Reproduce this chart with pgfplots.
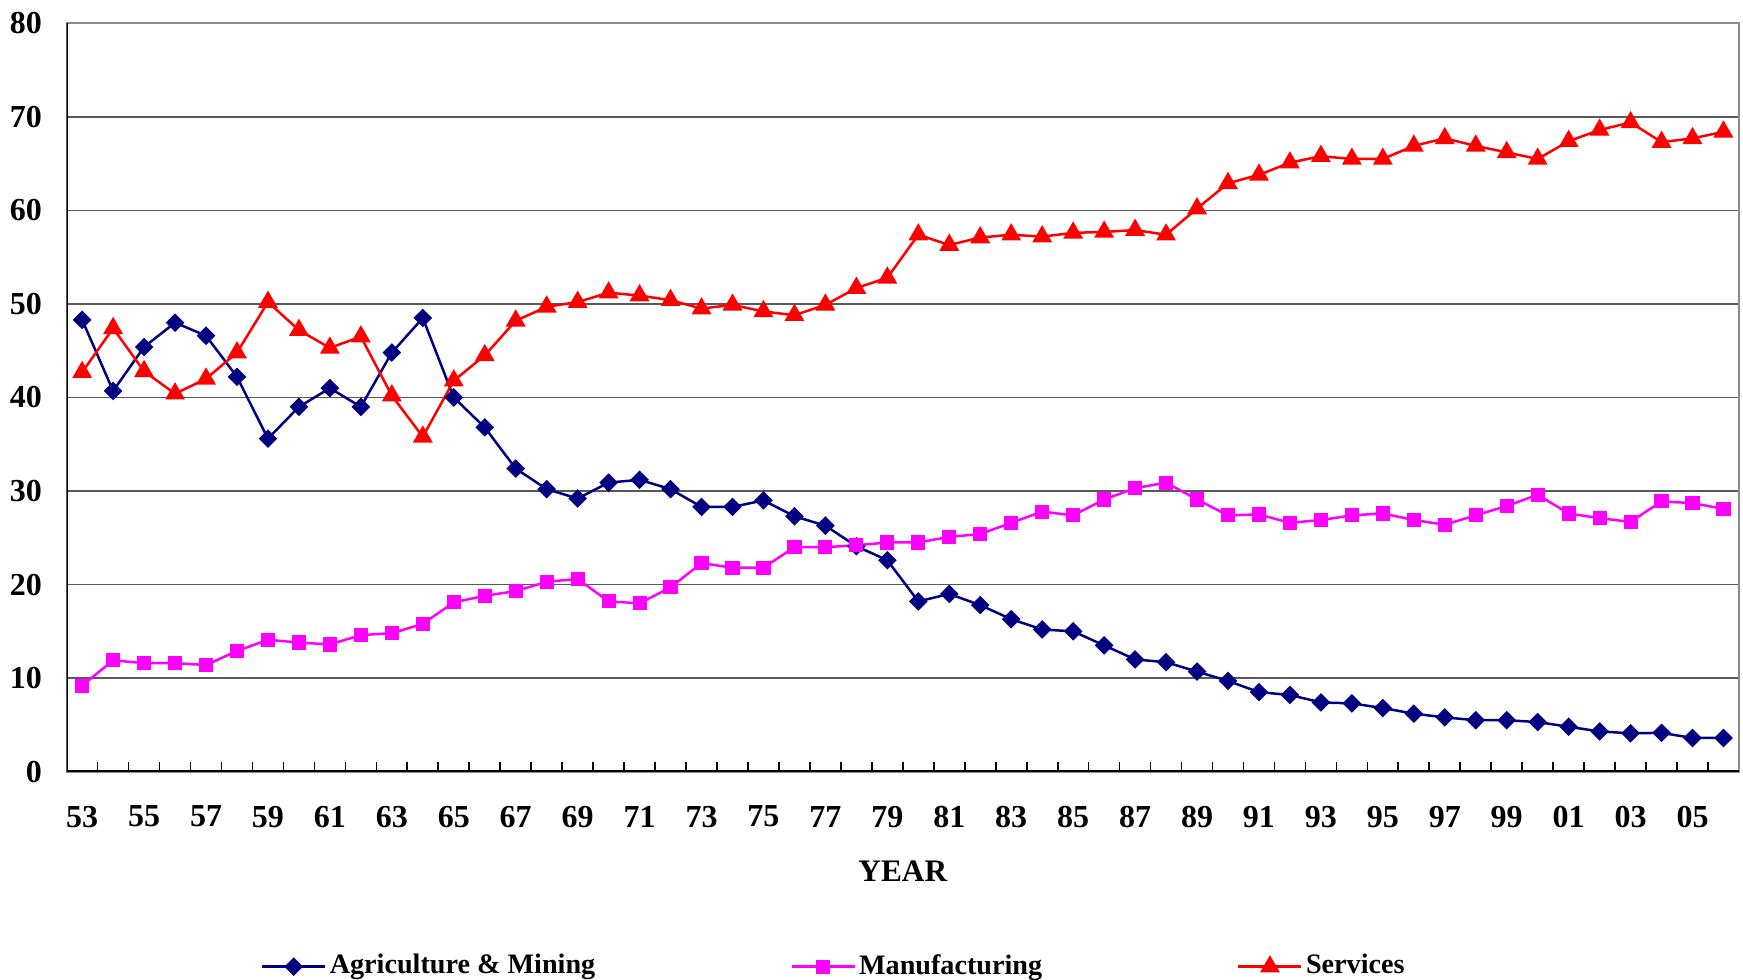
\documentclass[border=0pt]{standalone}
\usepackage{fontspec}
\setmainfont{Liberation Serif}
\usepackage{pgfplots}
\pgfplotsset{compat=1.18}
\usepackage{pgfplotstable}
\definecolor{agri}{RGB}{0,0,128}
\definecolor{manu}{RGB}{255,0,255}
\definecolor{serv}{RGB}{255,0,0}

\pgfplotstableread{
x agri manu serv
0 48.3 9.2 42.7
1 40.7 11.9 47.4
2 45.4 11.6 42.8
3 48.0 11.6 40.4
4 46.6 11.4 42.0
5 42.2 12.9 44.8
6 35.6 14.1 50.2
7 39.0 13.8 47.2
8 41.0 13.6 45.3
9 39.0 14.6 46.5
10 44.8 14.8 40.2
11 48.5 15.8 35.8
12 40.0 18.1 41.8
13 36.8 18.8 44.5
14 32.4 19.3 48.2
15 30.2 20.3 49.7
16 29.2 20.6 50.2
17 30.9 18.2 51.2
18 31.2 18.0 50.9
19 30.2 19.7 50.4
20 28.3 22.3 49.5
21 28.3 21.8 49.9
22 29.0 21.8 49.2
23 27.3 24.0 48.8
24 26.3 24.0 49.9
25 24.1 24.2 51.7
26 22.6 24.5 52.8
27 18.2 24.5 57.4
28 19.0 25.1 56.3
29 17.8 25.4 57.1
30 16.3 26.6 57.4
31 15.2 27.8 57.2
32 15.0 27.4 57.6
33 13.5 29.1 57.7
34 12.0 30.3 57.9
35 11.7 30.9 57.4
36 10.7 29.1 60.2
37 9.7 27.4 62.9
38 8.5 27.5 63.8
39 8.2 26.6 65.1
40 7.4 26.9 65.8
41 7.3 27.4 65.5
42 6.8 27.6 65.5
43 6.2 26.9 66.9
44 5.8 26.4 67.7
45 5.5 27.4 66.9
46 5.5 28.4 66.2
47 5.3 29.6 65.5
48 4.8 27.6 67.4
49 4.3 27.1 68.6
50 4.1 26.7 69.4
51 4.15 28.9 67.3
52 3.6 28.7 67.7
53 3.6 28.1 68.4
}\data

\begin{document}
\begin{tikzpicture}
\useasboundingbox (-20pt,-62.5pt) rectangle (502.9pt,231.5pt);
\begin{axis}[
  at={(0,0)}, anchor=south west,
  scale only axis, width=501.7pt, height=224.5pt,
  xmin=-0.5, xmax=53.5, ymin=0, ymax=80,
  ytick={0,10,...,80},
  xtick={0,2,...,52},
  xticklabels={53,55,57,59,61,63,65,67,69,71,73,75,77,79,81,83,85,87,89,91,93,95,97,99,01,03,05},
  minor xtick={-0.5,0.5,...,53.5},
  xtick pos=bottom, ytick pos=left,
  tick align=inside,
  major tick length=0pt,
  minor tick length=2.8pt,
  minor tick style={black, line width=0.5pt},
  ymajorgrids,
  major grid style={black!65, line width=0.4pt},
  axis line style={gray!90, line width=0.6pt},
  /pgf/number format/assume math mode=true,
  tick label style={font=\bfseries\fontsize{9.6}{11}\selectfont},
  yticklabel style={anchor=east, inner sep=0pt, xshift=-7.2pt},
  xticklabel style={anchor=center, inner sep=0pt, yshift=-13.5pt},
  xlabel={YEAR},
  xlabel style={font=\bfseries\fontsize{9.4}{11}\selectfont, at={(axis description cs:0.5,0)}, anchor=center, yshift=-29.8pt},
  legend columns=3,
  legend style={draw=none, fill=none, at={(axis description cs:0.1158,-0.2606)}, anchor=west,
    font=\bfseries\fontsize{8.45}{10}\selectfont, inner xsep=0pt, inner ysep=0pt,
    nodes={inner xsep=1pt, inner ysep=0pt},
    /tikz/every even column/.append style={column sep=57.5pt}},
  legend image code/.code={\draw[mark repeat=2,mark phase=2] plot coordinates {(0pt,0pt)(9.45pt,0pt)(18.9pt,0pt)};},
]
\addplot[color=agri, line width=0.75pt, mark=square*, mark size=1.6pt, mark options={rotate=45, solid, fill=agri}] table[x=x,y=agri]{\data};
\addlegendentry{Agriculture \& Mining}
\addplot[color=manu, line width=0.75pt, mark=square*, mark size=1.75pt, mark options={solid, fill=manu}] table[x=x,y=manu]{\data};
\addlegendentry{Manufacturing}
\addplot[color=serv, line width=0.75pt, mark=triangle*, mark size=2.7pt, mark options={solid, fill=serv}] table[x=x,y=serv]{\data};
\addlegendentry{Services}
\draw[black, line width=0.7pt] (rel axis cs:0,1) -- (rel axis cs:0,0) -- (rel axis cs:1,0);
\end{axis}
\end{tikzpicture}
\end{document}
